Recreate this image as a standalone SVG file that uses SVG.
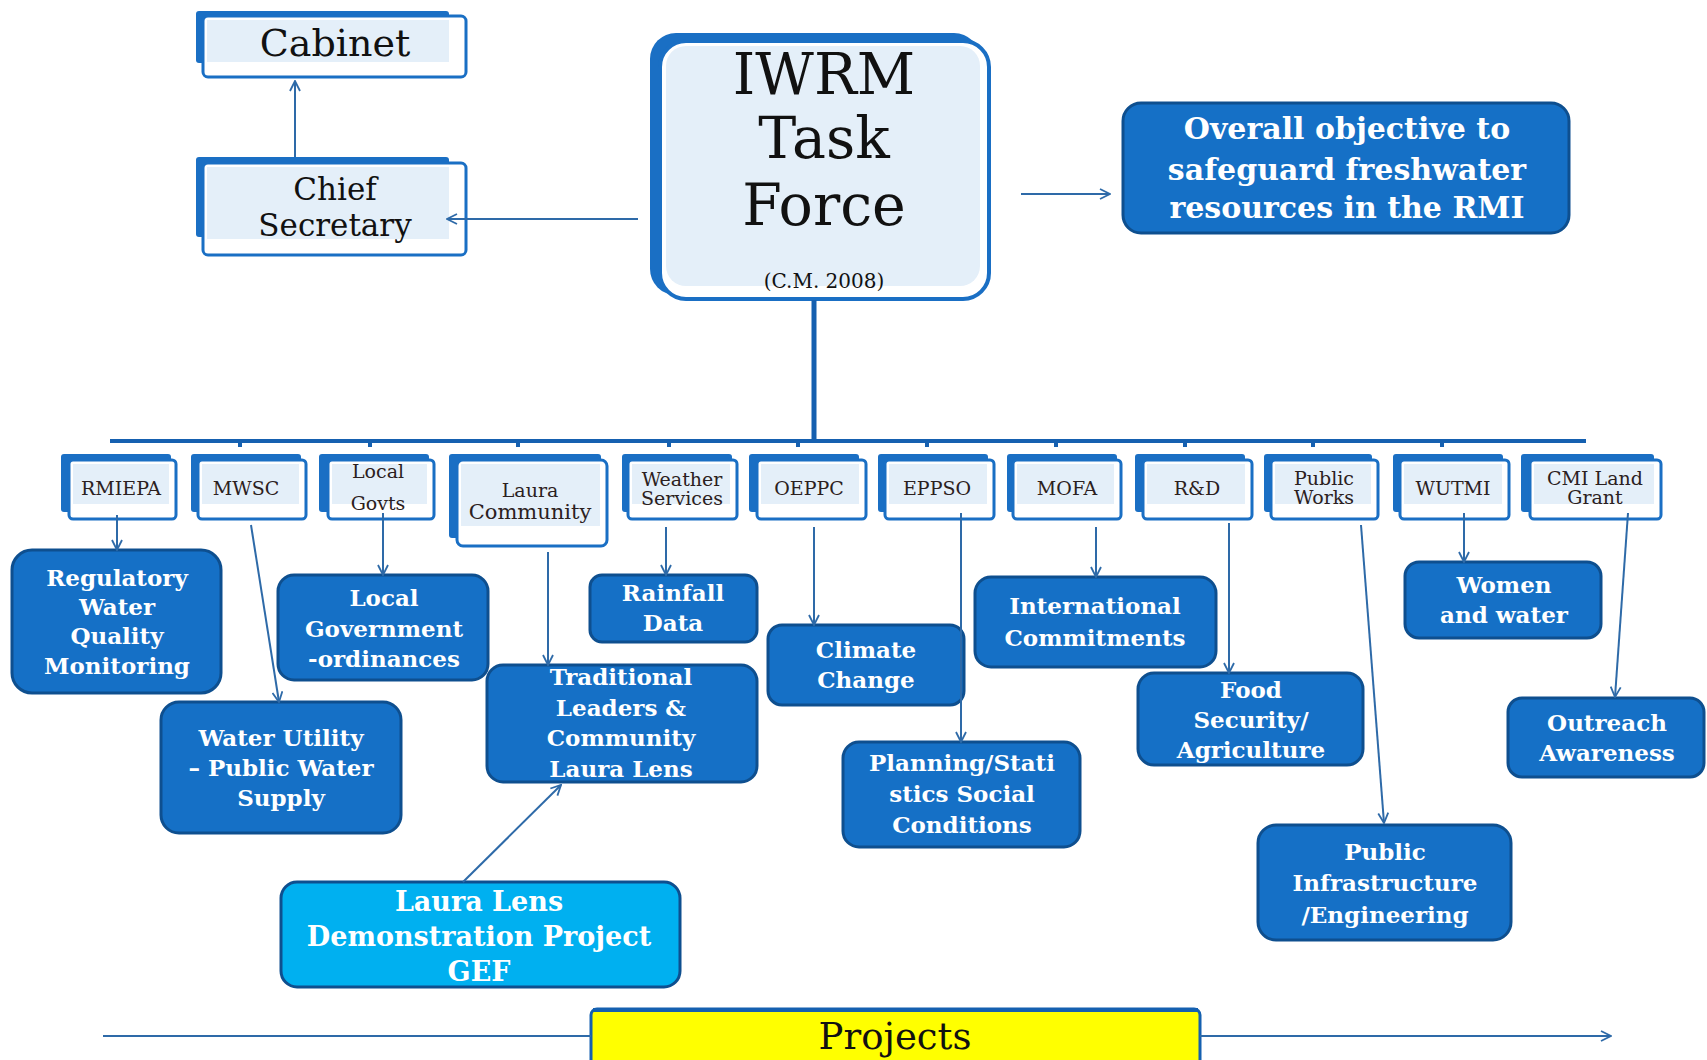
<svg xmlns="http://www.w3.org/2000/svg" width="1707" height="1060" viewBox="0 0 1707 1060">
<style>
.back{fill:#1a6fc4}
.front{fill:#ffffff;stroke:#1a6fc4;stroke-width:3}
.inner{fill:#e4eff9}
.dark{fill:#1570c6;stroke:#0e4f8f;stroke-width:3}
.lens{fill:#00b0f0;stroke:#0e4f8f;stroke-width:3}
.proj{fill:#ffff00;stroke:#1560b0;stroke-width:3}
.wt{font-family:"DejaVu Serif","Liberation Serif",serif;fill:#ffffff;font-size:23px;font-weight:bold;text-anchor:middle}
.obj{font-size:30px}
.ll{font-size:27px}
.st{font-family:"DejaVu Serif","Liberation Serif",serif;fill:#2b2020;font-size:19px;text-anchor:middle}
.bt{font-family:"DejaVu Serif","Liberation Serif",serif;fill:#111111;text-anchor:middle}
.conn{fill:none;stroke:#2e6aa8;stroke-width:2}
</style>
<defs>
<marker id="arr" viewBox="0 0 12 12" refX="11" refY="6" markerWidth="12" markerHeight="12" markerUnits="userSpaceOnUse" orient="auto">
<path d="M1,1 L11,6 L1,11" fill="none" stroke="#2e6aa8" stroke-width="1.8"/>
</marker>
</defs>
<rect width="1707" height="1060" fill="#ffffff"/>

<g id="cabinet">
<rect class="back" x="196" y="11" width="253" height="52" rx="3"/>
<rect class="front" x="203" y="16" width="263" height="61" rx="5"/>
<rect class="inner" x="207" y="20" width="242" height="42"/>
<text class="bt" x="335" y="56" font-size="38">Cabinet</text>
</g>

<g id="chief-secretary">
<rect class="back" x="196" y="157" width="253" height="80" rx="3"/>
<rect class="front" x="203" y="163" width="263" height="92" rx="5"/>
<rect class="inner" x="207" y="167" width="242" height="72"/>
<text class="bt" x="335" y="200" font-size="31">Chief</text>
<text class="bt" x="335" y="236" font-size="31">Secretary</text>
</g>

<g id="iwrm">
<rect class="back" x="650" y="33" width="330" height="262" rx="26"/>
<rect x="660" y="41" width="329" height="258" rx="26" fill="#ffffff" stroke="#1a6fc4" stroke-width="4"/>
<rect x="666" y="46" width="314" height="240" rx="20" fill="#e4eff9"/>
<text class="bt" x="824" y="94" font-size="57">IWRM</text>
<text class="bt" x="824" y="158" font-size="57">Task</text>
<text class="bt" x="824" y="225" font-size="57">Force</text>
<text class="bt" x="824" y="288" font-size="20">(C.M. 2008)</text>
</g>

<g id="objective">
<rect class="dark" x="1123" y="103" width="446" height="130" rx="18"/>
<text class="wt obj" x="1347" y="139">Overall objective to</text>
<text class="wt obj" x="1347" y="180">safeguard freshwater</text>
<text class="wt obj" x="1347" y="218">resources in the RMI</text>
</g>

<g id="rmiepa">
<rect class="back" x="61" y="454" width="110" height="58" rx="3"/>
<rect class="front" x="69" y="460" width="107" height="59" rx="4"/>
<rect class="inner" x="73" y="464" width="96" height="40"/>
<text class="st" x="121" y="495">RMIEPA</text>
</g>
<g id="mwsc">
<rect class="back" x="191" y="454" width="110" height="58" rx="3"/>
<rect class="front" x="198" y="460" width="108" height="59" rx="4"/>
<rect class="inner" x="202" y="464" width="97" height="40"/>
<text class="st" x="246" y="495">MWSC</text>
</g>
<g id="local-govts">
<rect class="back" x="319" y="454" width="110" height="58" rx="3"/>
<rect class="front" x="328" y="460" width="106" height="59" rx="4"/>
<rect class="inner" x="332" y="464" width="95" height="40"/>
<text class="st" x="378" y="478">Local</text>
<text class="st" x="378" y="510">Govts</text>
</g>
<g id="laura-community">
<rect class="back" x="449" y="454" width="152" height="84" rx="3"/>
<rect class="front" x="457" y="460" width="150" height="86" rx="6"/>
<rect class="inner" x="461" y="464" width="139" height="62"/>
<text class="st" x="530" y="497">Laura</text>
<text class="st" x="530" y="519" style="font-size:21px">Community</text>
</g>
<g id="weather">
<rect class="back" x="622" y="454" width="110" height="58" rx="3"/>
<rect class="front" x="628" y="460" width="109" height="59" rx="4"/>
<rect class="inner" x="632" y="464" width="98" height="40"/>
<text class="st" x="682" y="486">Weather</text>
<text class="st" x="682" y="505">Services</text>
</g>
<g id="oeppc">
<rect class="back" x="749" y="454" width="110" height="58" rx="3"/>
<rect class="front" x="757" y="460" width="109" height="59" rx="4"/>
<rect class="inner" x="761" y="464" width="98" height="40"/>
<text class="st" x="809" y="495">OEPPC</text>
</g>
<g id="eppso">
<rect class="back" x="878" y="454" width="110" height="58" rx="3"/>
<rect class="front" x="885" y="460" width="109" height="59" rx="4"/>
<rect class="inner" x="889" y="464" width="98" height="40"/>
<text class="st" x="937" y="495">EPPSO</text>
</g>
<g id="mofa">
<rect class="back" x="1007" y="454" width="110" height="58" rx="3"/>
<rect class="front" x="1013" y="460" width="108" height="59" rx="4"/>
<rect class="inner" x="1017" y="464" width="97" height="40"/>
<text class="st" x="1067" y="495">MOFA</text>
</g>
<g id="rd">
<rect class="back" x="1135" y="454" width="110" height="58" rx="3"/>
<rect class="front" x="1143" y="460" width="109" height="59" rx="4"/>
<rect class="inner" x="1147" y="464" width="98" height="40"/>
<text class="st" x="1197" y="495">R&amp;D</text>
</g>
<g id="public-works">
<rect class="back" x="1264" y="454" width="108" height="58" rx="3"/>
<rect class="front" x="1271" y="460" width="107" height="59" rx="4"/>
<rect class="inner" x="1275" y="464" width="96" height="40"/>
<text class="st" x="1324" y="485">Public</text>
<text class="st" x="1324" y="504">Works</text>
</g>
<g id="wutmi">
<rect class="back" x="1393" y="454" width="110" height="58" rx="3"/>
<rect class="front" x="1400" y="460" width="109" height="59" rx="4"/>
<rect class="inner" x="1404" y="464" width="98" height="40"/>
<text class="st" x="1453" y="495">WUTMI</text>
</g>
<g id="cmi-land-grant">
<rect class="back" x="1521" y="454" width="133" height="58" rx="3"/>
<rect class="front" x="1530" y="460" width="131" height="59" rx="4"/>
<rect class="inner" x="1534" y="464" width="120" height="40"/>
<text class="st" x="1595" y="485">CMI Land</text>
<text class="st" x="1595" y="504">Grant</text>
</g>

<g id="regulatory">
<rect class="dark" x="12" y="550" width="209" height="143" rx="20"/>
<text class="wt" x="117" y="586">Regulatory</text>
<text class="wt" x="117" y="615">Water</text>
<text class="wt" x="117" y="644">Quality</text>
<text class="wt" x="117" y="674">Monitoring</text>
</g>
<g id="water-utility">
<rect class="dark" x="161" y="702" width="240" height="131" rx="18"/>
<text class="wt" x="281" y="746">Water Utility</text>
<text class="wt" x="281" y="776">– Public Water</text>
<text class="wt" x="281" y="806">Supply</text>
</g>
<g id="local-government">
<rect class="dark" x="278" y="575" width="210" height="105" rx="16"/>
<text class="wt" x="384" y="606">Local</text>
<text class="wt" x="384" y="637">Government</text>
<text class="wt" x="384" y="667">-ordinances</text>
</g>
<g id="traditional">
<rect class="dark" x="487" y="665" width="270" height="117" rx="16"/>
<text class="wt" x="621" y="685">Traditional</text>
<text class="wt" x="621" y="716">Leaders &amp;</text>
<text class="wt" x="621" y="746">Community</text>
<text class="wt" x="621" y="777">Laura Lens</text>
</g>
<g id="rainfall">
<rect class="dark" x="590" y="575" width="167" height="67" rx="12"/>
<text class="wt" x="673" y="601">Rainfall</text>
<text class="wt" x="673" y="631">Data</text>
</g>
<g id="climate">
<rect class="dark" x="768" y="625" width="196" height="80" rx="14"/>
<text class="wt" x="866" y="658">Climate</text>
<text class="wt" x="866" y="688">Change</text>
</g>
<g id="planning">
<rect class="dark" x="843" y="742" width="237" height="105" rx="16"/>
<text class="wt" x="962" y="771">Planning/Stati</text>
<text class="wt" x="962" y="802">stics Social</text>
<text class="wt" x="962" y="833">Conditions</text>
</g>
<g id="international">
<rect class="dark" x="975" y="577" width="241" height="90" rx="16"/>
<text class="wt" x="1095" y="614">International</text>
<text class="wt" x="1095" y="646">Commitments</text>
</g>
<g id="food">
<rect class="dark" x="1138" y="673" width="225" height="92" rx="16"/>
<text class="wt" x="1251" y="698">Food</text>
<text class="wt" x="1251" y="728">Security/</text>
<text class="wt" x="1251" y="758">Agriculture</text>
</g>
<g id="women">
<rect class="dark" x="1405" y="562" width="196" height="76" rx="14"/>
<text class="wt" x="1504" y="593">Women</text>
<text class="wt" x="1504" y="623">and water</text>
</g>
<g id="outreach">
<rect class="dark" x="1508" y="698" width="196" height="79" rx="14"/>
<text class="wt" x="1607" y="731">Outreach</text>
<text class="wt" x="1607" y="761">Awareness</text>
</g>
<g id="public-infrastructure">
<rect class="dark" x="1258" y="825" width="253" height="115" rx="18"/>
<text class="wt" x="1385" y="860">Public</text>
<text class="wt" x="1385" y="891">Infrastructure</text>
<text class="wt" x="1385" y="923">/Engineering</text>
</g>
<g id="laura-lens">
<rect class="lens" x="281" y="882" width="399" height="105" rx="16"/>
<text class="wt ll" x="479" y="911">Laura Lens</text>
<text class="wt ll" x="479" y="946">Demonstration Project</text>
<text class="wt ll" x="479" y="981">GEF</text>
</g>
<g id="projects">
<rect class="proj" x="591" y="1009" width="609" height="60" rx="6"/>
<line x1="593" y1="1010" x2="1198" y2="1010" stroke="#1560b0" stroke-width="4"/>
<text class="bt" x="895" y="1049" font-size="37">Projects</text>
</g>

<g id="connectors">
<line class="conn" x1="295" y1="157" x2="295" y2="81" marker-end="url(#arr)"/>
<line class="conn" x1="638" y1="219" x2="447" y2="219" marker-end="url(#arr)"/>
<line class="conn" x1="1021" y1="194" x2="1110" y2="194" marker-end="url(#arr)" stroke-width="2.5"/>
<line x1="814" y1="300" x2="814" y2="443" stroke="#1560b0" stroke-width="5"/>
<line x1="110" y1="441" x2="1586" y2="441" stroke="#1560b0" stroke-width="4"/>
<g stroke="#1560b0" stroke-width="4">
<line x1="240" y1="441" x2="240" y2="447"/>
<line x1="370" y1="441" x2="370" y2="447"/>
<line x1="518" y1="441" x2="518" y2="447"/>
<line x1="669" y1="441" x2="669" y2="447"/>
<line x1="798" y1="441" x2="798" y2="447"/>
<line x1="927" y1="441" x2="927" y2="447"/>
<line x1="1056" y1="441" x2="1056" y2="447"/>
<line x1="1185" y1="441" x2="1185" y2="447"/>
<line x1="1313" y1="441" x2="1313" y2="447"/>
<line x1="1442" y1="441" x2="1442" y2="447"/>
</g>
<line class="conn" x1="117" y1="515" x2="117" y2="550" marker-end="url(#arr)"/>
<line class="conn" x1="251" y1="525" x2="279" y2="702" marker-end="url(#arr)"/>
<line class="conn" x1="383" y1="513" x2="383" y2="575" marker-end="url(#arr)"/>
<line class="conn" x1="548" y1="552" x2="548" y2="665" marker-end="url(#arr)"/>
<line class="conn" x1="666" y1="527" x2="666" y2="575" marker-end="url(#arr)"/>
<line class="conn" x1="814" y1="527" x2="814" y2="625" marker-end="url(#arr)"/>
<line class="conn" x1="961" y1="513" x2="961" y2="742" marker-end="url(#arr)"/>
<line class="conn" x1="1096" y1="527" x2="1096" y2="577" marker-end="url(#arr)"/>
<line class="conn" x1="1229" y1="523" x2="1229" y2="673" marker-end="url(#arr)"/>
<line class="conn" x1="1361" y1="525" x2="1384" y2="823" marker-end="url(#arr)"/>
<line class="conn" x1="1464" y1="513" x2="1464" y2="562" marker-end="url(#arr)"/>
<line class="conn" x1="1628" y1="513" x2="1615" y2="697" marker-end="url(#arr)"/>
<line class="conn" x1="463" y1="882" x2="561" y2="785" marker-end="url(#arr)"/>
<line class="conn" x1="103" y1="1036" x2="591" y2="1036"/>
<line class="conn" x1="1200" y1="1036" x2="1611" y2="1036" marker-end="url(#arr)"/>
</g>
</svg>
